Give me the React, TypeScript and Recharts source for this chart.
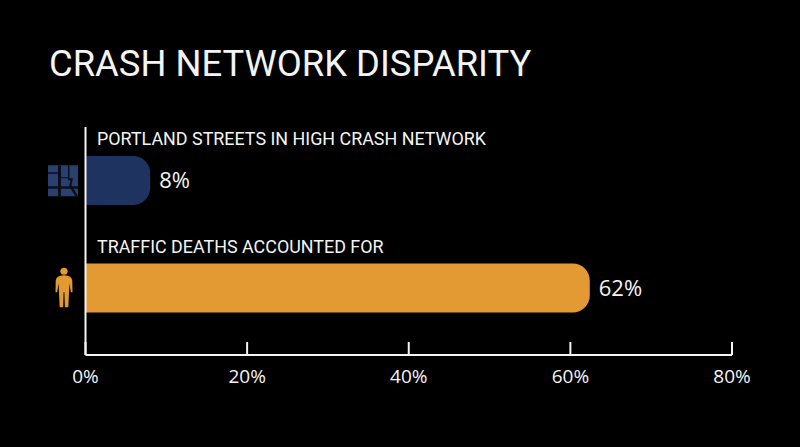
import React from "react";
import { BarChart, Bar, XAxis, YAxis, Cell, LabelList } from "recharts";

const categories = ["PORTLAND STREETS IN HIGH CRASH NETWORK", "TRAFFIC DEATHS ACCOUNTED FOR"];
const shares = [8, 62.4];
const colors = ["#1F3360", "#E39A33"];
const xTicks = [0, 20, 40, 60, 80];
const title = "CRASH NETWORK DISPARITY";

const rows = categories.map((name, i) => ({ name, share: shares[i] }));
const WHITE = "#F4F4F4";

const MapIcon = ({ x, y }: { x: number; y: number }) => {
  const c = "#2A4070";
  return (
    <g transform={`translate(${x - 37.5},${y - 15.5})`}>
      <rect x={0} y={0} width={30} height={31} fill={c} />
      <rect x={10} y={0} width={3} height={31} fill="#0B0F1A" />
      <rect x={0} y={21} width={30} height={2.5} fill="#0B0F1A" />
      <rect x={0} y={7} width={13} height={1.5} fill="#0B0F1A" />
      <path d="M20 0 L21.5 0 L21.5 13 L25 13 L23.5 20 L30 31 L27.5 31 L21 21 L22.5 15 L20 15 Z" fill="#0B0F1A" />
      <rect x={13} y={12} width={7} height={1} fill="#0B0F1A" />
    </g>
  );
};

const PersonIcon = ({ x, y }: { x: number; y: number }) => {
  const c = "#E39A33";
  return (
    <g transform={`translate(${x - 22},${y - 2})`} fill={c}>
      <circle cx={0} cy={-15} r={3.6} />
      <path d="M-5 -10 Q0 -12 5 -10 Q8 -9 8.3 -5 L8.5 6 L6.8 6 L5.5 -3 L5 6 L4.3 21 L0.9 21 L0.4 6 L-0.4 6 L-0.9 21 L-4.3 21 L-5 6 L-5.5 -3 L-6.8 6 L-8.5 6 L-8.3 -5 Q-8 -9 -5 -10 Z" />
    </g>
  );
};

const IconTick = (props: any) => {
  const isMap = props.payload.value === categories[0];
  return isMap ? <MapIcon x={props.x + 8} y={props.y} /> : <PersonIcon x={props.x + 8.5} y={props.y} />;
};

const CategoryLabel = (props: any) => (
  <text x={97} y={props.y - 11} fill={WHITE} fontFamily="Roboto" fontSize={17.9}>
    {props.value}
  </text>
);

export default function App() {
  return (
    <div style={{ position: "fixed", left: 0, top: 0, width: 800, height: 447, background: "#000", overflow: "hidden" }}>
      <div
        style={{
          position: "absolute",
          left: 49,
          top: 42,
          color: WHITE,
          fontFamily: "Roboto",
          fontSize: 36.4,
          lineHeight: "44px",
          whiteSpace: "nowrap",
        }}
      >
        {title}
      </div>
      <BarChart
        width={800}
        height={447}
        data={rows}
        layout="vertical"
        margin={{ top: 127, right: 68, bottom: 0, left: 0 }}
        barCategoryGap={0}
      >
        <XAxis
          type="number"
          domain={[0, 80]}
          ticks={xTicks}
          height={92}
          tickFormatter={(v: number) => `${v}%`}
          stroke={WHITE}
          strokeWidth={2}
          tickSize={-13}
          tickMargin={28}
          interval={0}
          tick={{ fill: WHITE, fontFamily: "Open Sans", fontSize: 19 }}
        />
        <YAxis
          type="category"
          dataKey="name"
          width={85.5}
          stroke={WHITE}
          strokeWidth={2}
          tickLine={false}
          padding={{ top: 0, bottom: 13 }}
          tick={IconTick}
          interval={0}
        />
        <Bar dataKey="share" barSize={49} radius={[0, 17, 17, 0]} isAnimationActive={false}>
          {rows.map((r, i) => (
            <Cell key={r.name} fill={colors[i]} />
          ))}
          <LabelList dataKey="name" content={CategoryLabel} />
          <LabelList
            dataKey="share"
            position="right"
            offset={9}
            formatter={(v: number) => `${Math.round(v)}%`}
            fill={WHITE}
            fontFamily="Open Sans"
            fontSize={22}
          />
        </Bar>
      </BarChart>
    </div>
  );
}
